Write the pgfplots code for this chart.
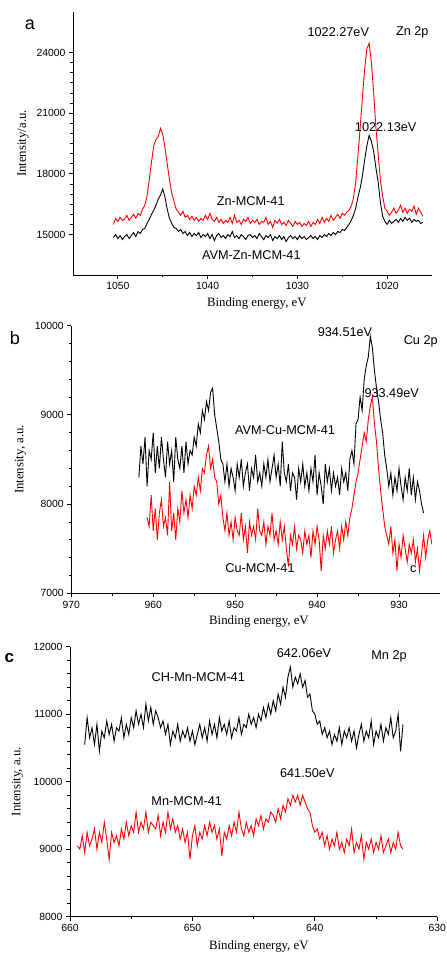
\documentclass[border=0pt]{standalone}
\usepackage{fontspec}
\setmainfont{Liberation Sans}
\newfontfamily\tnr{Liberation Serif}
\usepackage{pgfplots}
\pgfplotsset{compat=1.18}
\pgfplotsset{
  xpsstyle/.style={
    scale only axis,
    axis x line*=bottom, axis y line*=left,
    axis line style={line width=0.8pt,-},
    tick align=outside,
    major tick length=4pt, minor tick length=2.5pt,
    every tick/.style={black, line width=0.8pt},
    minor x tick num=1,
    tick label style={font=\fontsize{10.4}{12}\selectfont},
    /pgf/number format/assume math mode=true,
    /pgf/number format/1000 sep={},
    scaled ticks=false,
    x dir=reverse,
    label style={font=\tnr\fontsize{12.8}{14}\selectfont},
  }
}
\begin{document}
\begin{tikzpicture}
\path[use as bounding box] (0pt,0pt) rectangle (447pt,954pt);
% ---------------- panel a ----------------
\begin{axis}[xpsstyle, at={(73pt,679pt)}, anchor=south west, width=359pt, height=263pt,
  xmin=1015, xmax=1055, ymin=13000, ymax=26000,
  xtick={1020,1030,1040,1050}, ytick={15000,18000,21000,24000}, minor y tick num=5,
  xlabel={Binding energy, eV}, ylabel={Intensity/a.u.},
  xlabel style={at={(axis description cs:0.512,-0.110)}, anchor=center},
  ylabel style={at={(axis description cs:-0.139,0.5)}, anchor=center}]
\addplot[black, line width=0.9pt] table {
1050.5 14850
1050.25 15000
1050 14800
1049.75 14950
1049.5 14750
1049.25 14900
1049 15000
1048.75 14800
1048.5 14950
1048.25 15100
1048 14900
1047.75 15150
1047.5 15050
1047.25 15250
1047 15300
1046.75 15550
1046.5 15750
1046.25 16000
1046 16200
1045.75 16450
1045.5 16750
1045.25 16950
1045 17250
1044.75 16850
1044.5 16250
1044.25 15800
1044 15550
1043.75 15350
1043.5 15300
1043.25 15150
1043 15250
1042.75 15050
1042.5 15150
1042.25 14950
1042 15100
1041.75 14900
1041.5 15050
1041.25 14950
1041 15100
1040.75 14850
1040.5 15000
1040.25 14900
1040 15050
1039.75 14800
1039.5 15000
1039.25 14700
1039 14950
1038.75 15050
1038.5 14850
1038.25 14950
1038 14800
1037.75 15000
1037.5 14900
1037.25 15150
1037 14850
1036.75 14950
1036.5 14800
1036.25 15000
1036 14900
1035.75 14750
1035.5 14950
1035.25 15000
1035 14850
1034.75 14950
1034.5 14800
1034.25 15050
1034 14900
1033.75 14750
1033.5 14950
1033.25 14850
1033 15000
1032.75 14700
1032.5 14900
1032.25 14800
1032 14950
1031.75 14750
1031.5 14900
1031.25 14650
1031 14850
1030.75 14950
1030.5 14800
1030.25 14900
1030 14750
1029.75 14950
1029.5 14800
1029.25 14900
1029 14750
1028.75 14850
1028.5 14950
1028.25 14800
1028 14900
1027.75 14750
1027.5 14950
1027.25 14850
1027 15000
1026.75 14900
1026.5 15050
1026.25 14950
1026 15100
1025.75 15000
1025.5 15150
1025.25 15100
1025 15250
1024.75 15200
1024.5 15350
1024.25 15500
1024 15700
1023.75 15950
1023.5 16300
1023.25 16850
1023 17300
1022.75 17900
1022.5 18700
1022.25 19400
1022 19900
1021.75 19600
1021.5 19100
1021.25 18300
1021 17600
1020.75 16600
1020.5 15900
1020.25 15650
1020 15500
1019.75 15700
1019.5 15550
1019.25 15650
1019 15750
1018.75 15600
1018.5 15800
1018.25 15650
1018 15850
1017.75 15700
1017.5 15800
1017.25 15600
1017 15750
1016.75 15650
1016.5 15700
1016.25 15550
1016 15600
};
\addplot[red, line width=0.9pt] table {
1050.5 15500
1050.25 15800
1050 15650
1049.75 15850
1049.5 15700
1049.25 15750
1049 15950
1048.75 15700
1048.5 15850
1048.25 16000
1048 15800
1047.75 16050
1047.5 15950
1047.25 16250
1047 16450
1046.75 16900
1046.5 17700
1046.25 18600
1046 19400
1045.75 19700
1045.5 19850
1045.25 20250
1045 19950
1044.75 19300
1044.5 18500
1044.25 17700
1044 17050
1043.75 16650
1043.5 16250
1043.25 16100
1043 15950
1042.75 16150
1042.5 15850
1042.25 15950
1042 15750
1041.75 15900
1041.5 15700
1041.25 15850
1041 15650
1040.75 15800
1040.5 15700
1040.25 15950
1040 15750
1039.75 16050
1039.5 15750
1039.25 15650
1039 15850
1038.75 15600
1038.5 15750
1038.25 15550
1038 15700
1037.75 15600
1037.5 15850
1037.25 15550
1037 15950
1036.75 15600
1036.5 15700
1036.25 15500
1036 15750
1035.75 15650
1035.5 15850
1035.25 15550
1035 15700
1034.75 15600
1034.5 15750
1034.25 15500
1034 15650
1033.75 15600
1033.5 15850
1033.25 15500
1033 15650
1032.75 15350
1032.5 15700
1032.25 15550
1032 15750
1031.75 15500
1031.5 15600
1031.25 15450
1031 15700
1030.75 15550
1030.5 15400
1030.25 15650
1030 15500
1029.75 15600
1029.5 15400
1029.25 15550
1029 15450
1028.75 15650
1028.5 15400
1028.25 15600
1028 15500
1027.75 15750
1027.5 15550
1027.25 15850
1027 15600
1026.75 15800
1026.5 15650
1026.25 15950
1026 15700
1025.75 15850
1025.5 16000
1025.25 15800
1025 16050
1024.75 15950
1024.5 16100
1024.25 16200
1024 16400
1023.75 16800
1023.5 17600
1023.25 18900
1023 20300
1022.75 21800
1022.5 23200
1022.25 24200
1022 24450
1021.75 23500
1021.5 22000
1021.25 20300
1021 19000
1020.75 17700
1020.5 16900
1020.25 16300
1020 16150
1019.75 15950
1019.5 16100
1019.25 16300
1019 16050
1018.75 16200
1018.5 16450
1018.25 16100
1018 16300
1017.75 16050
1017.5 16250
1017.25 16150
1017 16400
1016.75 16000
1016.5 16300
1016.25 16100
1016 15900
};
\end{axis}
% ---------------- panel b ----------------
\begin{axis}[xpsstyle, at={(71.3pt,360.7pt)}, anchor=south west, width=368.7pt, height=267.6pt,
  xmin=925, xmax=970, ymin=7000, ymax=10000,
  xtick={930,940,950,960,970}, ytick={7000,8000,9000,10000}, minor y tick num=4,
  xlabel={Binding energy, eV}, ylabel={Intensity, a.u.},
  xlabel style={at={(axis description cs:0.509,-0.106)}, anchor=center},
  ylabel style={at={(axis description cs:-0.138,0.5)}, anchor=center}]
\addplot[black, line width=0.9pt] table {
961.75 8300
961.5 8650
961.25 8450
961 8750
960.75 8200
960.5 8600
960.25 8500
960 8800
959.75 8350
959.5 8650
959.25 8400
959 8750
958.75 8500
958.5 8300
958.25 8700
958 8450
957.75 8600
957.5 8250
957.25 8750
957 8500
956.75 8400
956.5 8650
956.25 8350
956 8700
955.75 8450
955.5 8600
955.25 8550
955 8750
954.75 8650
954.5 8900
954.25 8800
954 9050
953.75 8950
953.5 9150
953.25 9050
953 9250
952.75 9300
952.5 9000
952.25 8850
952 8700
951.75 8500
951.5 8450
951.25 8250
951 8450
950.75 8200
950.5 8400
950.25 8300
950 8150
949.75 8450
949.5 8300
949.25 8500
949 8200
948.75 8350
948.5 8450
948.25 8150
948 8400
947.75 8300
947.5 8550
947.25 8250
947 8350
946.75 8200
946.5 8450
946.25 8300
946 8500
945.75 8250
945.5 8400
945.25 8550
945 8300
944.75 8450
944.5 8200
944.25 8700
944 8350
943.75 8250
943.5 8450
943.25 8150
943 8350
942.75 8300
942.5 8050
942.25 8400
942 8250
941.75 8450
941.5 8200
941.25 8350
941 8150
940.75 8400
940.5 8250
940.25 8550
940 8100
939.75 8350
939.5 8200
939.25 8000
939 8450
938.75 8250
938.5 8400
938.25 8150
938 8350
937.75 8200
937.5 8300
937.25 8100
937 8400
936.75 8250
936.5 8350
936.25 8150
936 8500
935.75 8600
935.5 8450
935.25 8900
935 8950
934.75 9200
934.5 9050
934.25 9400
934 9550
933.75 9650
933.5 9880
933.25 9750
933 9500
932.75 9300
932.5 9150
932.25 8950
932 8800
931.75 8550
931.5 8400
931.25 8200
931 8350
930.75 8100
930.5 8300
930.25 8150
930 8400
929.75 8200
929.5 8050
929.25 8300
929 8150
928.75 8400
928.5 8100
928.25 8300
928 8050
927.75 8250
927.5 8150
927.25 8000
927 7900
};
\addplot[red, line width=0.9pt] table {
960.75 7850
960.5 7750
960.25 8100
960 7700
959.75 7950
959.5 7600
959.25 7900
959 8050
958.75 7750
958.5 7850
958.25 7650
958 8250
957.75 7700
957.5 7900
957.25 7600
957 7950
956.75 7800
956.5 8150
956.25 7900
956 8050
955.75 7850
955.5 8100
955.25 7950
955 8200
954.75 8100
954.5 8300
954.25 8150
954 8400
953.75 8350
953.5 8550
953.25 8650
953 8400
952.75 8500
952.5 8300
952.25 8250
952 8000
951.75 8100
951.5 7850
951.25 7700
951 7900
950.75 7650
950.5 7800
950.25 7600
950 7850
949.75 7700
949.5 7650
949.25 7900
949 7600
948.75 7750
948.5 7450
948.25 7800
948 7650
947.75 7750
947.5 7600
947.25 7950
947 7700
946.75 7650
946.5 7800
946.25 7550
946 7750
945.75 7650
945.5 7900
945.25 7600
945 7700
944.75 7550
944.5 7800
944.25 7600
944 7750
943.75 7500
943.5 7300
943.25 7650
943 7550
942.75 7750
942.5 7500
942.25 7650
942 7600
941.75 7450
941.5 7700
941.25 7550
941 7650
940.75 7400
940.5 7700
940.25 7550
940 7750
939.75 7600
939.5 7250
939.25 7650
939 7500
938.75 7700
938.5 7550
938.25 7750
938 7450
937.75 7600
937.5 7700
937.25 7500
937 7750
936.75 7600
936.5 7800
936.25 7650
936 7850
935.75 7950
935.5 8100
935.25 8250
935 8350
934.75 8500
934.5 8650
934.25 8800
934 8700
933.75 8950
933.5 9100
933.25 9200
933 8900
932.75 8700
932.5 8400
932.25 8150
932 7950
931.75 7750
931.5 7650
931.25 7550
931 7750
930.75 7450
930.5 7600
930.25 7250
930 7550
929.75 7400
929.5 7650
929.25 7500
929 7350
928.75 7550
928.5 7450
928.25 7600
928 7350
927.75 7500
927.5 7250
927.25 7450
927 7650
926.75 7400
926.5 7600
926.25 7700
926 7550
};
\end{axis}
% ---------------- panel c ----------------
\begin{axis}[xpsstyle, at={(70pt,37.3pt)}, anchor=south west, width=367.3pt, height=270pt,
  xmin=630, xmax=660, ymin=8000, ymax=12000,
  xtick={630,640,650,660}, ytick={8000,9000,10000,11000,12000}, minor y tick num=4,
  xlabel={Binding energy, eV}, ylabel={Intensity, a.u.},
  xlabel style={at={(axis description cs:0.514,-0.111)}, anchor=center},
  ylabel style={at={(axis description cs:-0.143,0.5)}, anchor=center}]
\addplot[black, line width=0.9pt] table {
658.8 10550
658.6 10950
658.4 10650
658.2 10800
658.0 10550
657.8 10850
657.6 10450
657.4 10750
657.2 10650
657.0 10900
656.8 10700
656.6 10850
656.4 10600
656.2 10800
656.0 10750
655.8 10950
655.6 10650
655.4 10850
655.2 10700
655.0 10950
654.8 10800
654.6 11050
654.4 10850
654.2 11000
654.0 10800
653.8 11150
653.6 10900
653.4 11100
653.2 10850
653.0 11050
652.8 10950
652.6 10800
652.4 10900
652.2 10700
652.0 10850
651.8 10550
651.6 10750
651.4 10650
651.2 10850
651.0 10600
650.8 10750
650.6 10650
650.4 10800
650.2 10600
650.0 10750
649.8 10550
649.6 10700
649.4 10850
649.2 10650
649.0 10800
648.8 10600
648.6 10900
648.4 10700
648.2 10850
648.0 10650
647.8 10950
647.6 10750
647.4 10850
647.2 10700
647.0 10900
646.8 10650
646.6 10800
646.4 10750
646.2 10950
646.0 10700
645.8 10850
645.6 10800
645.4 11000
645.2 10850
645.0 10950
644.8 10800
644.6 11000
644.4 10900
644.2 11100
644.0 10950
643.8 11150
643.6 11000
643.4 11200
643.2 11050
643.0 11300
642.8 11150
642.6 11400
642.4 11250
642.2 11550
642.0 11700
641.8 11400
641.6 11550
641.4 11450
641.2 11600
641.0 11400
640.8 11500
640.6 11250
640.4 11300
640.2 11050
640.0 11000
639.8 10850
639.6 10900
639.4 10700
639.2 10800
639.0 10650
638.8 10750
638.6 10550
638.4 10700
638.2 10600
638.0 10800
637.8 10550
637.6 10750
637.4 10650
637.2 10800
637.0 10600
636.8 10750
636.6 10500
636.4 10700
636.2 10850
636.0 10600
635.8 10750
635.6 10650
635.4 10900
635.2 10550
635.0 10750
634.8 10650
634.6 10850
634.4 10600
634.2 10800
634.0 10700
633.8 10950
633.6 10650
633.4 10750
633.2 11000
633.0 10450
632.8 10850
};
\addplot[red, line width=0.9pt] table {
659.4 9050
659.2 9000
659.0 9200
658.8 8950
658.6 9250
658.4 9050
658.2 9150
658.0 9300
657.8 9000
657.6 9250
657.4 9100
657.2 9400
657.0 9150
656.8 8850
656.6 9250
656.4 9100
656.2 9200
656.0 9050
655.8 9300
655.6 9150
655.4 9400
655.2 9200
655.0 9350
654.8 9250
654.6 9550
654.4 9250
654.2 9400
654.0 9300
653.8 9550
653.6 9250
653.4 9400
653.2 9350
653.0 9300
652.8 9500
652.6 9200
652.4 9400
652.2 9250
652.0 9550
651.8 9300
651.6 9450
651.4 9250
651.2 9350
651.0 9150
650.8 9300
650.6 9100
650.4 9250
650.2 8850
650.0 9200
649.8 9350
649.6 9050
649.4 9250
649.2 9150
649.0 9350
648.8 9200
648.6 9400
648.4 9250
648.2 9350
648.0 9150
647.8 9300
647.6 8900
647.4 9250
647.2 9150
647.0 9350
646.8 9200
646.6 9400
646.4 9250
646.2 9550
646.0 9300
645.8 9200
645.6 9400
645.4 9250
645.2 9350
645.0 9200
644.8 9450
644.6 9350
644.4 9500
644.2 9300
644.0 9450
643.8 9400
643.6 9550
643.4 9500
643.2 9400
643.0 9600
642.8 9450
642.6 9650
642.4 9550
642.2 9750
642.0 9650
641.8 9800
641.6 9700
641.4 9800
641.2 9650
641.0 9800
640.8 9700
640.6 9600
640.4 9550
640.2 9350
640.0 9250
639.8 9300
639.6 9150
639.4 9250
639.2 9050
639.0 9200
638.8 9000
638.6 9150
638.4 9050
638.2 9250
638.0 9000
637.8 9100
637.6 8950
637.4 9150
637.2 9050
637.0 9300
636.8 8950
636.6 9100
636.4 9000
636.2 9200
636.0 8850
635.8 9100
635.6 9000
635.4 9150
635.2 8950
635.0 9100
634.8 9000
634.6 9200
634.4 8950
634.2 9050
634.0 9150
633.8 8950
633.6 9100
633.4 9000
633.2 9250
633.0 9050
632.8 9000
};
\end{axis}
% ---------------- annotations ----------------
\begin{scope}[every node/.style={inner sep=0pt, anchor=center, font=\fontsize{12.7}{14}\selectfont}]
\node[font=\fontsize{18}{20}\selectfont] at (30pt,929pt) {a};
\node at (338.3pt,921.7pt) {1022.27eV};
\node at (412.3pt,921.7pt) {Zn 2p};
\node at (385.7pt,826.7pt) {1022.13eV};
\node at (250.7pt,753.3pt) {Zn-MCM-41};
\node at (251.3pt,699pt) {AVM-Zn-MCM-41};
\node[font=\fontsize{18}{20}\selectfont] at (15pt,616pt) {b};
\node at (345pt,622.3pt) {934.51eV};
\node at (420.7pt,612.3pt) {Cu 2p};
\node at (391.7pt,560.7pt) {933.49eV};
\node at (285pt,524pt) {AVM-Cu-MCM-41};
\node at (260pt,385.7pt) {Cu-MCM-41};
\node at (413.3pt,384.7pt) {c};
\node[font=\bfseries\fontsize{17}{20}\selectfont] at (9.3pt,296pt) {c};
\node at (304pt,300.7pt) {642.06eV};
\node at (389pt,297.3pt) {Mn 2p};
\node at (198.3pt,277.3pt) {CH-Mn-MCM-41};
\node at (307.3pt,181.3pt) {641.50eV};
\node at (186.7pt,153.3pt) {Mn-MCM-41};
\end{scope}
\end{tikzpicture}
\end{document}
